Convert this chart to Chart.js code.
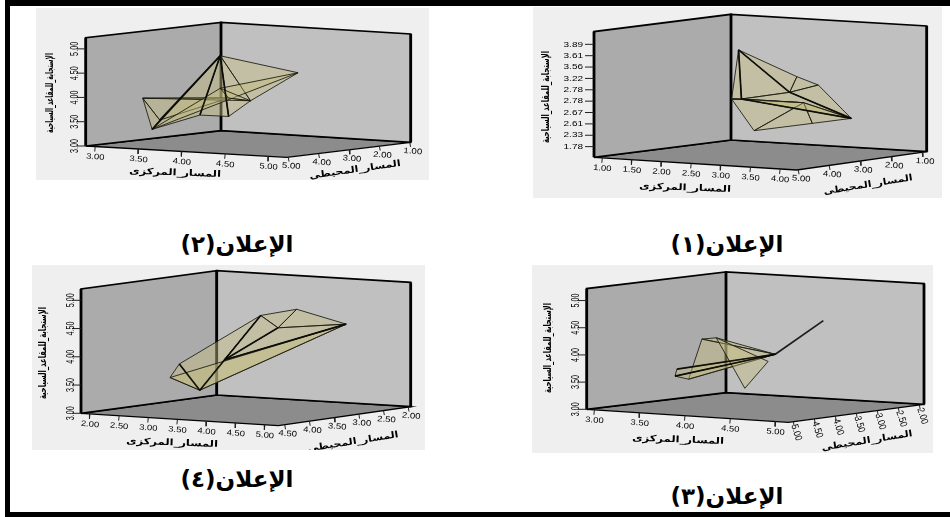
<!DOCTYPE html>
<html>
<head>
<meta charset="utf-8">
<script src="https://cdn.jsdelivr.net/npm/chart.js@4/dist/chart.umd.min.js"></script>
<style>
  html, body { margin: 0; padding: 0; background: #fff; width: 950px; height: 517px; overflow: hidden; }
  canvas { position: absolute; background: #efefef; filter: blur(0.45px); }
  .bar { position: absolute; background: #000; }
  .caption { position: absolute; font: bold 23px "DejaVu Sans", sans-serif; color: #000; text-align: center; white-space: nowrap; }
</style>
</head>
<body>
<div class="bar" style="left:5px;top:0;width:945px;height:6px"></div>
<div class="bar" style="left:5px;top:0;width:5px;height:517px"></div>
<div class="bar" style="left:5px;top:512px;width:945px;height:5px"></div>

<canvas id="ad1"></canvas>
<canvas id="ad2"></canvas>
<canvas id="ad3"></canvas>
<canvas id="ad4"></canvas>

<div class="caption" dir="rtl" style="left:642px;top:231px;width:170px">الإعلان(١)</div>
<div class="caption" dir="rtl" style="left:152px;top:231px;width:170px">الإعلان(٢)</div>
<div class="caption" dir="rtl" style="left:642px;top:483px;width:170px">الإعلان(٣)</div>
<div class="caption" dir="rtl" style="left:152px;top:466px;width:170px">الإعلان(٤)</div>

<script>
const centralTitle = 'المسار_المركزى';
const peripheralTitle = 'المسار_المحيطى';
const responseTitle = 'الإستجابة_للمقاعد_السياحية';

// ad 1: the response axis is ordinal, so its values are positions along the tick list
const ad1CentralTicks = [1, 1.5, 2, 2.5, 3, 3.5, 4];
const ad1PeripheralTicks = [5, 4, 3, 2, 1];
const ad1ResponseTicks = [0, 1, 2, 3, 4, 5, 6, 7, 8, 9];
const ad1ResponseLabels = ['1.78', '2.33', '2.61', '2.67', '2.78', '2.78', '3.22', '3.56', '3.61', '3.89'];
const ad1Central    = [1.64, 1.52, 1.69, 3.07, 2.65, 3.02, 3.59, 3.46, 3.31, 2.46];
const ad1Peripheral = [2, 2, 2, 3, 2, 2, 2, 3, 3, 3];
const ad1Response   = [7.64, 3.29, 3.34, 4.73, 5.60, 4.98, 2.22, 2.12, 3.89, 1.16];
const ad1Faces = [[0,1,2],[0,2,3],[0,3,4],[4,3,5],[3,5,6],[2,3,6],[1,9,8],[9,7,8],[7,8,6],[1,2,8],[8,2,6]];
const ad1Bold = [[0,2],[0,3],[2,6],[3,6]];

// ad 2
const ad2CentralTicks = [3, 3.5, 4, 4.5, 5];
const ad2PeripheralTicks = [5, 4, 3, 2, 1];
const ad2ResponseTicks = [3, 3.5, 4, 4.5, 5];
const ad2ResponseLabels = ['3.00', '3.50', '4.00', '4.50', '5.00'];
const ad2Central    = [3.68, 4.23, 4.04, 3.78, 3.82, 3.26, 3.15, 3.35, 3.68, 3.78];
const ad2Peripheral = [3, 2, 3, 3, 4, 4, 4, 4, 3, 3];
const ad2Response   = [4.78, 4.41, 3.89, 3.54, 3.65, 3.30, 3.93, 3.50, 4.11, 3.92];
const ad2Faces = [[0,1,2],[0,2,3],[0,3,4],[0,4,5],[0,5,7],[5,6,7],[6,7,9],[6,2,9],[1,8,5],[8,2,9]];
const ad2Bold = [[0,5],[0,7],[0,4],[0,3]];

// ad 3
const ad3CentralTicks = [3, 3.5, 4, 4.5, 5];
const ad3PeripheralTicks = [5, 4.5, 4, 3.5, 3, 2.5, 2];
const ad3ResponseTicks = [3, 3.5, 4, 4.5, 5];
const ad3ResponseLabels = ['3.00', '3.50', '4.00', '4.50', '5.00'];
const ad3Central    = [4.30, 4.00, 3.42, 3.58, 3.36, 3.38, 3.51, 3.66, 3.92];
const ad3Peripheral = [2.5, 3, 3.5, 3.5, 4, 4, 4, 3, 3];
const ad3Response   = [4.52, 3.92, 4.19, 4.23, 3.55, 3.68, 3.51, 3.26, 3.78];
const ad3Faces = [[2,3,1],[2,6,1],[4,5,1],[4,6,1],[3,7,8]];
const ad3Bold = [[0,1],[4,1],[5,1]];

// ad 4
const ad4CentralTicks = [2, 2.5, 3, 3.5, 4, 4.5, 5];
const ad4PeripheralTicks = [4.5, 4, 3.5, 3, 2.5, 2];
const ad4ResponseTicks = [3, 3.5, 4, 4.5, 5];
const ad4ResponseLabels = ['3.00', '3.50', '4.00', '4.50', '5.00'];
const ad4Central    = [4.58, 3.72, 3.53, 3.83, 3.33, 2.99, 2.83, 2.91];
const ad4Peripheral = [2.5, 2.5, 3, 3, 3.5, 4, 4, 3.5];
const ad4Response   = [4.49, 4.70, 4.64, 4.44, 3.90, 3.87, 3.62, 3.34];
const ad4Faces = [[5,2,7],[2,1,3],[1,0,3],[2,3,4],[3,0,4],[7,4,0],[2,4,7],[5,6,7],[6,0,7]];
const ad4Bold = [[2,7],[5,7],[3,4],[4,0]];

// where each plot box sits on the page and how its labels look
const layouts = {
  ad1: {
    box: {x: 533, y: 7, w: 409, h: 191},
    L: {x: 594, y: 157.3}, B: {x: 731, y: 140}, R: {x: 926.7, y: 151.7}, F: {x: 796.7, y: 170}, H: 125.7,
    central: [0.86, 4.28], peripheral: [5.05, 0.85], response: [-0.94, 10.12],
    yFlat: true, zRot: 4, zScale: 1.2, zSize: 8, zOff: [3, 9],
    titles: {x: [685, 188, 2, 92], z: [868, 185, -9, 90], y: [546, 97, -90, 92]}
  },
  ad2: {
    box: {x: 36, y: 8, w: 393, h: 172},
    L: {x: 85.7, y: 146}, B: {x: 221, y: 130.7}, R: {x: 410.7, y: 142.3}, F: {x: 286.7, y: 157.3}, H: 108.3,
    central: [2.89, 5.21], peripheral: [5.05, 0.97], response: [3, 5.23],
    yFlat: false, zRot: 4, zScale: 1.2, zSize: 8, zOff: [3, 9],
    titles: {x: [175, 173, 2, 92], z: [355, 170, -8, 92], y: [50, 93, -90, 80]}
  },
  ad3: {
    box: {x: 532, y: 265, w: 401, h: 188},
    L: {x: 586.7, y: 409.3}, B: {x: 726, y: 392.7}, R: {x: 924, y: 404.3}, F: {x: 788.3, y: 422.3}, H: 120.7,
    central: [2.915, 5.14], peripheral: [5.12, 1.89], response: [3, 5.22],
    yFlat: false, zRot: 72, zScale: 0.85, zSize: 10, zOff: [3, 11],
    titles: {x: [678, 440, 2, 92], z: [867, 441, -9, 92], y: [548, 348, -90, 90]}
  },
  ad4: {
    box: {x: 32, y: 265, w: 393, h: 185},
    L: {x: 81, y: 413.3}, B: {x: 216.7, y: 395}, R: {x: 410.7, y: 406.7}, F: {x: 278.3, y: 425.7}, H: 124.3,
    central: [1.846, 5.23], peripheral: [4.63, 1.95], response: [3, 5.2],
    yFlat: false, zRot: 4, zScale: 1.2, zSize: 8, zOff: [3, 9],
    titles: {x: [172, 443, 2, 92], z: [353, 442, -9, 92], y: [43, 353, -90, 92]}
  }
};

const faceFill = 'rgba(196,188,128,0.44)';
const faceLine = 'rgba(25,25,15,0.85)';

// oblique view of the box: the floor is a four cornered shape, height goes straight up
function project(lay, central, peripheral, response) {
  const u = (central - lay.central[0]) / (lay.central[1] - lay.central[0]);
  const v = (peripheral - lay.peripheral[0]) / (lay.peripheral[1] - lay.peripheral[0]);
  const w = (response - lay.response[0]) / (lay.response[1] - lay.response[0]);
  const ax = lay.L.x + v * (lay.B.x - lay.L.x);
  const ay = lay.L.y + v * (lay.B.y - lay.L.y);
  const cx = lay.F.x + v * (lay.R.x - lay.F.x);
  const cy = lay.F.y + v * (lay.R.y - lay.F.y);
  return {x: ax + u * (cx - ax), y: ay + u * (cy - ay) - w * lay.H};
}

function polygon(points, fillColor, lineColor, lineWidth) {
  return {
    data: points,
    showLine: true,
    fill: fillColor ? 'shape' : false,
    backgroundColor: fillColor || 'transparent',
    borderColor: lineColor,
    borderWidth: lineWidth,
    pointRadius: 0,
    tension: 0
  };
}

function tickSegments(lay, ticks, toPoint, dx, dy) {
  const points = [];
  ticks.forEach(function(t) {
    const p = toPoint(t);
    points.push(p, {x: p.x + dx, y: p.y + dy}, {x: NaN, y: NaN});
  });
  return points;
}

function makeAd(id, central, peripheral, response, faces, bold, centralTicks, peripheralTicks, responseTicks, responseLabels) {
  const lay = layouts[id];
  const cMin = lay.central[0], cMax = lay.central[1];
  const pA = lay.peripheral[0], pB = lay.peripheral[1];
  const rMin = lay.response[0], rMax = lay.response[1];
  const vertex = central.map(function(c, i) { return project(lay, c, peripheral[i], response[i]); });
  const at = function(c, p, r) { return project(lay, c, p, r); };

  const centralAt = function(t) { return at(t, pA, rMin); };
  const peripheralAt = function(t) { return at(cMax, t, rMin); };
  const responseAt = function(t) { return at(cMin, pA, t); };

  const datasets = [
    polygon([at(cMin, pA, rMin), at(cMax, pA, rMin), at(cMax, pB, rMin), at(cMin, pB, rMin), at(cMin, pA, rMin)], '#8c8c8c', '#000', 1.3),
    polygon([at(cMin, pA, rMin), at(cMin, pB, rMin), at(cMin, pB, rMax), at(cMin, pA, rMax), at(cMin, pA, rMin)], '#ababab', '#000', 1.7),
    polygon([at(cMin, pB, rMin), at(cMax, pB, rMin), at(cMax, pB, rMax), at(cMin, pB, rMax), at(cMin, pB, rMin)], '#c0c0c0', '#000', 1.7),
    polygon([at(cMin, pA, rMin), at(cMin, pA, rMax), {x: NaN, y: NaN}, at(cMin, pB, rMin), at(cMin, pB, rMax), {x: NaN, y: NaN}, at(cMax, pB, rMin), at(cMax, pB, rMax)], null, '#000', 2.8),
    polygon(tickSegments(lay, centralTicks, centralAt, -0.5, 5), null, '#222', 1),
    polygon(tickSegments(lay, peripheralTicks, peripheralAt, 0.8, 4.5), null, '#222', 1),
    polygon(tickSegments(lay, responseTicks, responseAt, -9, 0), null, '#222', 1)
  ];
  faces.forEach(function(f) {
    datasets.push(polygon([vertex[f[0]], vertex[f[1]], vertex[f[2]], vertex[f[0]]], faceFill, faceLine, 1));
  });
  bold.forEach(function(e) {
    datasets.push(polygon([vertex[e[0]], vertex[e[1]]], null, 'rgba(10,10,5,0.9)', 1.7));
  });
  // lower order is drawn later, so the list runs from back to front
  datasets.forEach(function(d, i) { d.order = -i; });

  const drawText = function(ctx, text, x, y, deg, font, scaleX, align) {
    ctx.save();
    ctx.translate(x, y);
    ctx.rotate(deg * Math.PI / 180);
    ctx.scale(scaleX, 1);
    ctx.font = font;
    ctx.fillStyle = '#000';
    ctx.textAlign = align || 'center';
    ctx.textBaseline = 'middle';
    ctx.fillText(text, 0, 0);
    ctx.restore();
  };
  const drawTitle = function(ctx, text, spec, size) {
    const font = 'bold ' + size + 'px "DejaVu Sans"';
    ctx.font = font;
    const fit = spec[3] / ctx.measureText(text).width;
    drawText(ctx, text, spec[0], spec[1], spec[2], font, fit);
  };

  const axisText = {
    id: 'axisText',
    afterDatasetsDraw: function(chart) {
      const ctx = chart.ctx;
      const sx = chart.scales.x, sy = chart.scales.y;
      ctx.save();
      // the text is placed in page units too, then moved through the chart's scales
      ctx.translate(sx.getPixelForValue(0), sy.getPixelForValue(0));
      const tickFont = '8px "Liberation Sans"';
      centralTicks.forEach(function(t) {
        const p = centralAt(t);
        drawText(ctx, t.toFixed(2), p.x, p.y + 10.5, 5, tickFont, 1.18);
      });
      peripheralTicks.forEach(function(t) {
        const p = peripheralAt(t);
        drawText(ctx, t.toFixed(2), p.x + lay.zOff[0], p.y + lay.zOff[1], lay.zRot, lay.zSize + 'px "Liberation Sans"', lay.zScale);
      });
      responseTicks.forEach(function(t, i) {
        const p = responseAt(t);
        if (lay.yFlat) {
          drawText(ctx, responseLabels[i], p.x - 11, p.y, 0, tickFont, 1.25, 'right');
        } else {
          drawText(ctx, responseLabels[i], p.x - 10, p.y, -90, '10px "Liberation Sans"', 0.72);
        }
      });
      drawTitle(ctx, centralTitle, lay.titles.x, 9);
      drawTitle(ctx, peripheralTitle, lay.titles.z, 9);
      drawTitle(ctx, responseTitle, lay.titles.y, 10.5);
      ctx.restore();
    }
  };

  const canvas = document.getElementById(id);
  canvas.width = lay.box.w;
  canvas.height = lay.box.h;
  canvas.style.left = lay.box.x + 'px';
  canvas.style.top = lay.box.y + 'px';

  return new Chart(canvas.getContext('2d'), {
    type: 'scatter',
    data: {datasets: datasets},
    options: {
      responsive: false,
      animation: false,
      layout: {padding: 0},
      plugins: {legend: {display: false}, tooltip: {enabled: false}, title: {display: false}},
      scales: {
        x: {type: 'linear', display: false, min: lay.box.x, max: lay.box.x + lay.box.w},
        y: {type: 'linear', display: false, reverse: true, min: lay.box.y, max: lay.box.y + lay.box.h}
      }
    },
    plugins: [axisText]
  });
}

makeAd('ad1', ad1Central, ad1Peripheral, ad1Response, ad1Faces, ad1Bold, ad1CentralTicks, ad1PeripheralTicks, ad1ResponseTicks, ad1ResponseLabels);
makeAd('ad2', ad2Central, ad2Peripheral, ad2Response, ad2Faces, ad2Bold, ad2CentralTicks, ad2PeripheralTicks, ad2ResponseTicks, ad2ResponseLabels);
makeAd('ad3', ad3Central, ad3Peripheral, ad3Response, ad3Faces, ad3Bold, ad3CentralTicks, ad3PeripheralTicks, ad3ResponseTicks, ad3ResponseLabels);
makeAd('ad4', ad4Central, ad4Peripheral, ad4Response, ad4Faces, ad4Bold, ad4CentralTicks, ad4PeripheralTicks, ad4ResponseTicks, ad4ResponseLabels);
</script>
</body>
</html>
